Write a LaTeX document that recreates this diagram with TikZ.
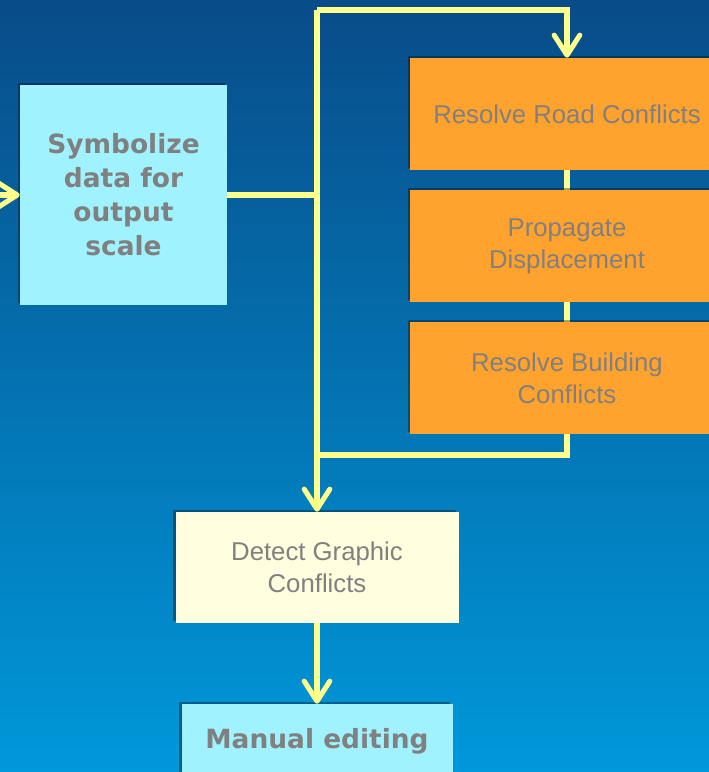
\documentclass[tikz,border=0pt]{standalone}
\usepackage{fontspec}
\setmainfont{Liberation Sans}
\newfontfamily\headfont{DejaVu Sans}
\usepackage{tikz}
\usetikzlibrary{arrows.meta,shadows}
\definecolor{bgtop}{RGB}{8,76,136}
\definecolor{bgbot}{RGB}{0,152,218}
\definecolor{wire}{RGB}{255,255,140}
\definecolor{cyanbox}{RGB}{160,242,255}
\definecolor{orangebox}{RGB}{255,162,46}
\definecolor{creambox}{RGB}{255,255,224}
\definecolor{txtgray}{RGB}{128,128,128}
\def\px{0.025cm}

\begin{document}
\begin{tikzpicture}[x=0.025cm, y=-0.025cm,
    box/.style={rectangle, align=center, inner sep=0pt, text=txtgray,
      font=\fontsize{18.3}{22.8}\selectfont,
      general shadow={fill=black, opacity=0.35, shadow xshift=-1.6pt, shadow yshift=1.3pt}},
    boldbox/.style={box, font=\headfont\fontsize{18.8}{24.2}\selectfont\bfseries},
    wireline/.style={draw=wire, line width=3.6pt},
    arr/.style={wireline, -{Straight Barb[length=0.5cm, width=0.64cm, line cap=round, line join=round]}}]
      \shade[top color=bgtop, bottom color=bgbot] (0,0) rectangle (709,772);
      \useasboundingbox (0,0) rectangle (709,772);
      \coordinate (in) at (-30,195);
      \coordinate (split) at (317,195);
      \coordinate (top) at (317,10);
      \coordinate (merge) at (317,455);
      \draw[wireline] (567,114) -- (567,378);
      \node[boldbox, fill=cyanbox, minimum width=207*\px, minimum height=220*\px] (sym) at (123.5,195) {Symbolize\\data for\\output\\scale};
      \node[box, fill=orangebox, minimum width=314*\px, minimum height=112*\px] (road) at (567,114) {Resolve Road Conflicts};
      \node[box, fill=orangebox, minimum width=314*\px, minimum height=112*\px] (prop) at (567,246) {Propagate\\Displacement};
      \node[box, fill=orangebox, minimum width=314*\px, minimum height=112*\px] (bld) at (567,378) {Resolve Building\\Conflicts};
      \node[box, fill=creambox, minimum width=283*\px, minimum height=111*\px] (det) at (317,567.5) {Detect Graphic\\Conflicts};
      \node[boldbox, fill=cyanbox, minimum width=271*\px, minimum height=74*\px] (man) at (317,741) {Manual editing};
      \draw[arr] (in) -- (sym);
      \draw[wireline] (sym.east) -- (split);
      \draw[arr] (top) -| (road);
      \draw[arr] (top) -- (det);
      \draw[wireline] (bld) |- (merge);
      \draw[arr] (det) -- (man);
    \end{tikzpicture}
\end{document}
